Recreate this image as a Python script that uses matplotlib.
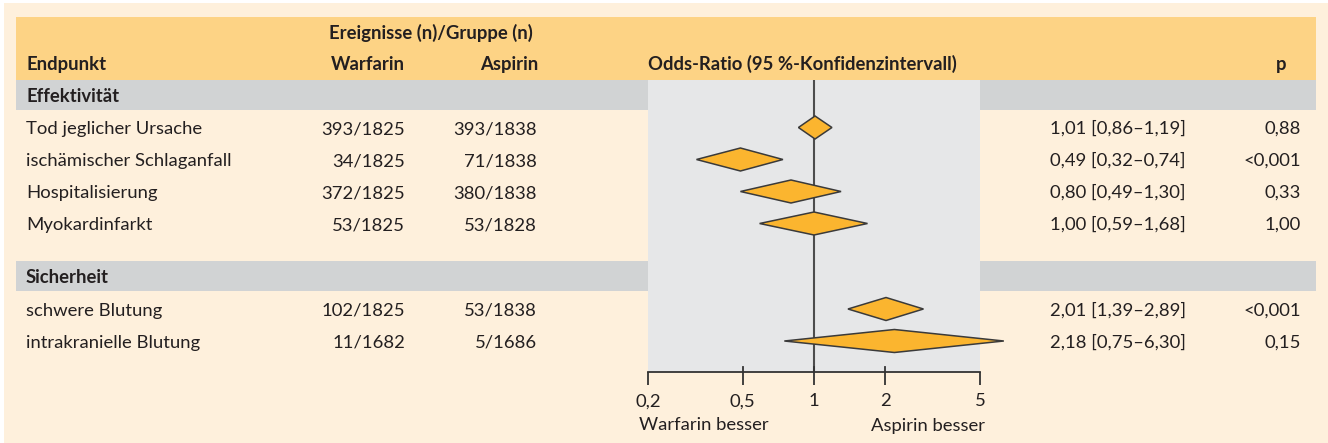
import matplotlib
matplotlib.use('Agg')
import matplotlib.pyplot as plt
from matplotlib.patches import Rectangle, Polygon
from matplotlib.transforms import blended_transform_factory
import matplotlib.ticker as mticker

# ---------------- data ----------------
groups = ['Effektivität', 'Sicherheit']
endpoints = ['Tod jeglicher Ursache', 'ischämischer Schlaganfall', 'Hospitalisierung',
             'Myokardinfarkt', 'schwere Blutung', 'intrakranielle Blutung']
warfarin = ['393/1825', '34/1825', '372/1825', '53/1825', '102/1825', '11/1682']
aspirin = ['393/1838', '71/1838', '380/1838', '53/1828', '53/1838', '5/1686']
odds_ratio = [1.01, 0.49, 0.80, 1.00, 2.01, 2.18]
ci_low = [0.86, 0.32, 0.49, 0.59, 1.39, 0.75]
ci_high = [1.19, 0.74, 1.30, 1.68, 2.89, 6.30]
p_values = ['0,88', '<0,001', '0,33', '1,00', '<0,001', '0,15']
tick_values = [0.2, 0.5, 1, 2, 5]
tick_labels = ['0,2', '0,5', '1', '2', '5']

# ---------------- layout (pixels) ----------------
W, H = 1328, 443
group_y = [95, 276]
row_y = [127.5, 159.5, 191.5, 223.5, 309, 341]
cap = 6.6  # half cap height -> baseline offset

TXT = '#231F20'
CREAM = '#FEF0DC'
ORANGE = '#FDD385'
GREY = '#D1D3D4'
PANEL = '#E6E7E8'
DIAMOND = '#FBB52F'

plt.rcParams['font.family'] = ['Lato', 'DejaVu Sans']
FS = 13.3

fig = plt.figure(figsize=(W / 100, H / 100), dpi=100, facecolor='white')
bg = fig.add_axes([0, 0, 1, 1])
bg.set_xlim(0, W)
bg.set_ylim(H, 0)
bg.axis('off')

bg.add_patch(Rectangle((4, 3), W - 4, H - 3, facecolor=CREAM, edgecolor='none'))
bg.add_patch(Rectangle((16, 17), 1300, 63, facecolor=ORANGE, edgecolor='none'))
for gy in group_y:
    bg.add_patch(Rectangle((16, gy - 15), 1300, 30, facecolor=GREY, edgecolor='none'))

# header texts
bold = dict(fontsize=FS, fontweight='bold', color=TXT, va='baseline')
bg.text(329, 38.5, 'Ereignisse (n)/Gruppe (n)', ha='left', **bold)
bg.text(26, 70, 'Endpunkt', ha='left', **bold)
bg.text(405, 70, 'Warfarin', ha='right', **bold)
bg.text(538, 70, 'Aspirin', ha='right', **bold)
bg.text(648, 70, 'Odds-Ratio (95 %-Konfidenzintervall)', ha='left', **bold)
bg.text(1281, 70, 'p', ha='center', **bold)

for g, gy in zip(groups, group_y):
    bg.text(26, gy + cap, g, ha='left', **bold)

reg = dict(fontsize=FS, color=TXT, va='baseline')
for i, y in enumerate(row_y):
    b = y + cap
    bg.text(26, b, endpoints[i], ha='left', **reg)
    bg.text(405, b, warfarin[i], ha='right', **reg)
    bg.text(537, b, aspirin[i], ha='right', **reg)
    ci_txt = f"{odds_ratio[i]:.2f} [{ci_low[i]:.2f}–{ci_high[i]:.2f}]".replace('.', ',')
    bg.text(1186, b, ci_txt, ha='right', **reg)
    bg.text(1301, b, p_values[i], ha='right', **reg)

bg.text(639, 430.5, 'Warfarin besser', ha='left', **reg)
bg.text(985, 430.5, 'Aspirin besser', ha='right', **reg)

# ---------------- forest panel ----------------
px0, px1, py0, py1 = 648, 980, 80, 372
ax = fig.add_axes([px0 / W, 1 - py1 / H, (px1 - px0) / W, (py1 - py0) / H])
ax.set_facecolor(PANEL)
ax.set_xscale('log')
ax.set_xlim(tick_values[0], tick_values[-1])
ax.set_ylim(py1, py0)
for s in ['top', 'left', 'right']:
    ax.spines[s].set_visible(False)
ax.spines['bottom'].set_color('#333333')
ax.spines['bottom'].set_linewidth(1.3)
ax.set_yticks([])
ax.xaxis.set_major_locator(mticker.FixedLocator(tick_values))
ax.xaxis.set_major_formatter(mticker.FixedFormatter(tick_labels))
ax.xaxis.set_minor_locator(mticker.NullLocator())
ax.tick_params(axis='x', direction='out', length=9.4, width=1.3, color='#333333',
               pad=6, labelsize=FS, labelcolor=TXT)

ax.axvline(1, color='#4D4D4D', lw=1.5, zorder=2)
trans = blended_transform_factory(ax.transData, ax.transAxes)
for t in tick_values[1:-1]:
    ax.plot([t, t], [0, 5 / (py1 - py0)], color='#333333', lw=1.3, transform=trans,
            clip_on=False, zorder=3)

hh = 11.5
for i, y in enumerate(row_y):
    verts = [(ci_low[i], y), (odds_ratio[i], y - hh), (ci_high[i], y), (odds_ratio[i], y + hh)]
    ax.add_patch(Polygon(verts, closed=True, facecolor=DIAMOND, edgecolor='#3A3A3A',
                         lw=1.1, zorder=4, clip_on=False))

fig.savefig('out.png', dpi=100, facecolor='white')
